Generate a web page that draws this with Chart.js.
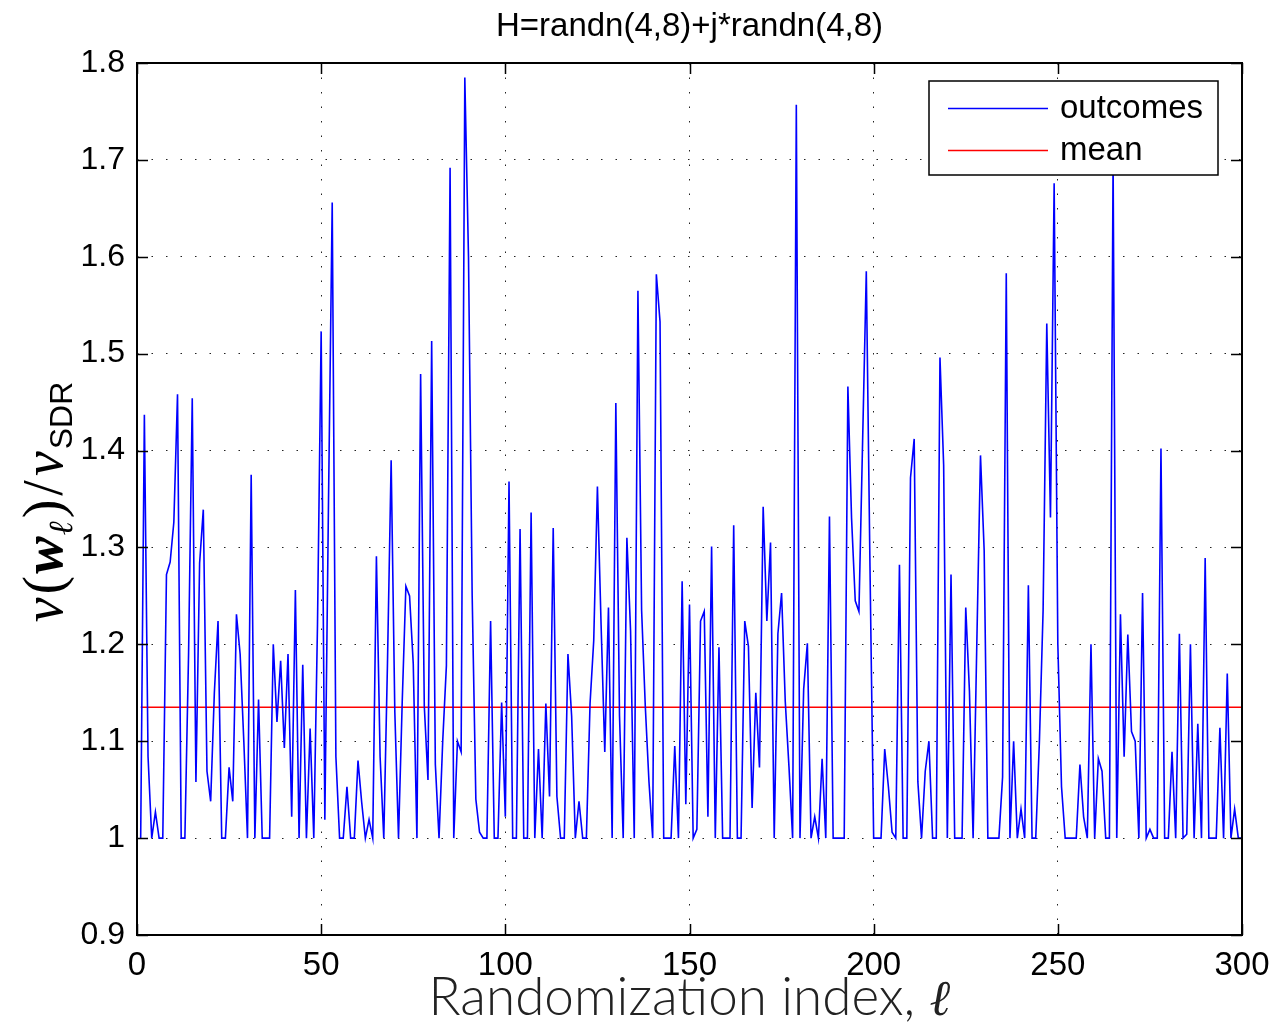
<!DOCTYPE html>
<html>
<head>
<meta charset="utf-8">
<title>outcomes vs SDR</title>
<script src="https://cdn.jsdelivr.net/npm/chart.js@4.4.1/dist/chart.umd.min.js"></script>
<style>
    html, body { margin: 0; padding: 0; background: #ffffff; }
    #chart-container { width: 1274px; height: 1023px; }
</style>
</head>
<body>
<div id="chart-container"><canvas width="1274" height="1023"></canvas></div>
<script>
const chartTitle = 'H=randn(4,8)+j*randn(4,8)';
const xAxisTitle = 'Randomization index, ';
const legendLabels = ['outcomes', 'mean'];

const xTickValues = [0, 50, 100, 150, 200, 250, 300];
const yTickValues = [0.9, 1.0, 1.1, 1.2, 1.3, 1.4, 1.5, 1.6, 1.7, 1.8];

// one value per randomization (index 1..300)
const outcomes = [
    1.0, 1.437, 1.084, 1.0, 1.027, 1.0, 1.0, 1.272, 1.285, 1.326,
    1.458, 1.0, 1.0, 1.19, 1.454, 1.058, 1.284, 1.339, 1.069, 1.038,
    1.15, 1.224, 1.0, 1.0, 1.073, 1.038, 1.231, 1.19, 1.1, 1.0,
    1.375, 1.0, 1.143, 1.0, 1.0, 1.0, 1.2, 1.12, 1.183, 1.093,
    1.19, 1.022, 1.256, 1.0, 1.179, 1.0, 1.113, 1.0, 1.22, 1.523,
    1.019, 1.35, 1.656, 1.084, 1.0, 1.0, 1.053, 1.0, 1.0, 1.08,
    1.037, 1.0, 1.019, 1.0, 1.291, 1.084, 1.0, 1.18, 1.39, 1.13,
    1.0, 1.14, 1.26, 1.25, 1.18, 1.0, 1.479, 1.136, 1.06, 1.513,
    1.076, 1.0, 1.1, 1.178, 1.692, 1.0, 1.1, 1.089, 1.785, 1.6,
    1.25, 1.04, 1.006, 1.0, 1.0, 1.224, 1.0, 1.0, 1.14, 1.022,
    1.368, 1.0, 1.0, 1.319, 1.0, 1.0, 1.336, 1.0, 1.092, 1.0,
    1.139, 1.043, 1.32, 1.043, 1.0, 1.0, 1.19, 1.126, 1.0, 1.038,
    1.0, 1.0, 1.139, 1.204, 1.363, 1.22, 1.089, 1.238, 1.0, 1.449,
    1.126, 1.0, 1.31, 1.214, 1.0, 1.565, 1.235, 1.136, 1.058, 1.0,
    1.582, 1.533, 1.0, 1.0, 1.0, 1.095, 1.0, 1.265, 1.035, 1.241,
    1.0, 1.009, 1.224, 1.234, 1.022, 1.301, 1.0, 1.197, 1.0, 1.0,
    1.0, 1.323, 1.0, 1.0, 1.224, 1.198, 1.031, 1.15, 1.073, 1.342,
    1.224, 1.305, 1.0, 1.211, 1.253, 1.141, 1.074, 1.0, 1.757, 1.0,
    1.154, 1.201, 1.0, 1.022, 1.0, 1.082, 1.0, 1.332, 1.0, 1.0,
    1.0, 1.0, 1.466, 1.33, 1.245, 1.234, 1.41, 1.585, 1.28, 1.0,
    1.0, 1.0, 1.092, 1.053, 1.006, 1.0, 1.282, 1.0, 1.0, 1.372,
    1.412, 1.058, 1.0, 1.069, 1.1, 1.0, 1.0, 1.496, 1.385, 1.0,
    1.272, 1.0, 1.0, 1.0, 1.238, 1.152, 1.0, 1.2, 1.395, 1.297,
    1.0, 1.0, 1.0, 1.0, 1.063, 1.583, 1.0, 1.1, 1.0, 1.03,
    1.0, 1.261, 1.0, 1.0, 1.1, 1.235, 1.531, 1.331, 1.676, 1.2,
    1.053, 1.0, 1.0, 1.0, 1.0, 1.076, 1.022, 1.0, 1.2, 1.0,
    1.082, 1.069, 1.0, 1.0, 1.70, 1.0, 1.231, 1.084, 1.21, 1.11,
    1.1, 1.0, 1.253, 1.0, 1.009, 1.0, 1.0, 1.402, 1.0, 1.0,
    1.089, 1.0, 1.211, 1.0, 1.004, 1.2, 1.0, 1.118, 1.0, 1.289,
    1.0, 1.0, 1.0, 1.114, 1.0, 1.17, 1.0, 1.03, 1.0, 1.0,
];
const meanValue = 1.135;

const tickFont = '"Liberation Sans", Arial, sans-serif';
const mathFont = '"Liberation Serif", "DejaVu Serif", serif';

window.onload = function() {
    createChart();
}

function createChart() {
    const canvas = document.querySelector('#chart-container > canvas');

    const outcomePoints = outcomes.map((value, i) => ({ x: i + 1, y: value }));
    const meanPoints = [
        { x: 1, y: meanValue },
        { x: outcomes.length, y: meanValue },
    ];

    new Chart(canvas, {
        type: 'line',
        data: {
            datasets: [
                {
                    label: legendLabels[0],
                    data: outcomePoints,
                    borderColor: '#0000ff',
                    borderWidth: 1.6,
                    pointRadius: 0,
                    tension: 0,
                },
                {
                    label: legendLabels[1],
                    data: meanPoints,
                    borderColor: '#ff0000',
                    borderWidth: 1.6,
                    pointRadius: 0,
                },
            ],
        },
        options: {
            responsive: false,
            animation: false,
            devicePixelRatio: 1,
            layout: {
                padding: { top: 63, right: 32, bottom: 0, left: 0 },
            },
            plugins: {
                legend: { display: false },
                title: { display: false },
                tooltip: { enabled: false },
            },
            scales: {
                x: {
                    type: 'linear',
                    min: 0,
                    max: 300,
                    afterBuildTicks: scale => {
                        scale.ticks = xTickValues.map(v => ({ value: v }));
                    },
                    afterFit: scale => {
                        scale.height = 88;
                        // the outer labels may hang over, like in MATLAB
                        scale.paddingLeft = 0;
                        scale.paddingRight = 0;
                    },
                    ticks: {
                        color: '#000',
                        font: { family: tickFont, size: 33 },
                        padding: 11,
                        maxRotation: 0,
                    },
                    grid: {
                        color: '#222',
                        lineWidth: 1,
                        drawTicks: false,
                    },
                    border: { display: false, dash: [1.5, 13] },
                },
                y: {
                    min: 0.9,
                    max: 1.8,
                    afterBuildTicks: scale => {
                        scale.ticks = yTickValues.map(v => ({ value: v }));
                    },
                    afterFit: scale => {
                        scale.width = 137;
                        scale.paddingTop = 0;
                        scale.paddingBottom = 0;
                    },
                    ticks: {
                        color: '#000',
                        font: { family: tickFont, size: 32 },
                        padding: 12,
                        callback: value => String(Number(value.toFixed(1))),
                    },
                    grid: {
                        color: '#222',
                        lineWidth: 1,
                        drawTicks: false,
                    },
                    border: { display: false, dash: [1.5, 13] },
                },
            },
        },
        plugins: [matlabFramePlugin],
    });
}

const matlabFramePlugin = {
    id: 'matlabFrame',
    afterDraw(chart) {
        const ctx = chart.ctx;
        const area = chart.chartArea;
        const xScale = chart.scales.x;
        const yScale = chart.scales.y;
        const tickLen = 11;

        ctx.save();
        ctx.strokeStyle = '#000';
        ctx.lineWidth = 1.5;
        ctx.setLineDash([]);

        // inward ticks on all four sides
        ctx.beginPath();
        xTickValues.forEach(v => {
            const px = Math.round(xScale.getPixelForValue(v)) + 0.5;
            ctx.moveTo(px, area.bottom);
            ctx.lineTo(px, area.bottom - tickLen);
            ctx.moveTo(px, area.top);
            ctx.lineTo(px, area.top + tickLen);
        });
        yTickValues.forEach(v => {
            const py = Math.round(yScale.getPixelForValue(v)) + 0.5;
            ctx.moveTo(area.left, py);
            ctx.lineTo(area.left + tickLen, py);
            ctx.moveTo(area.right, py);
            ctx.lineTo(area.right - tickLen, py);
        });
        ctx.stroke();

        ctx.lineWidth = 2;
        ctx.strokeRect(area.left, area.top, area.right - area.left, area.bottom - area.top);

        // legend box, top right inside the axes
        const box = { x: area.right - 313, y: area.top + 18, w: 289, h: 94 };
        ctx.fillStyle = '#fff';
        ctx.fillRect(box.x, box.y, box.w, box.h);
        ctx.lineWidth = 1.5;
        ctx.strokeRect(box.x, box.y, box.w, box.h);

        const rowY = [box.y + 27, box.y + 69];
        const colors = ['#0000ff', '#ff0000'];
        ctx.font = `33px ${tickFont}`;
        ctx.textBaseline = 'middle';
        ctx.textAlign = 'left';
        legendLabels.forEach((label, i) => {
            ctx.strokeStyle = colors[i];
            ctx.lineWidth = 1.5;
            ctx.beginPath();
            ctx.moveTo(box.x + 19, rowY[i] + 0.5);
            ctx.lineTo(box.x + 119, rowY[i] + 0.5);
            ctx.stroke();
            ctx.fillStyle = '#000';
            ctx.fillText(label, box.x + 131, rowY[i] + 1);
        });

        // title
        const midX = (area.left + area.right) / 2;
        ctx.font = `33px ${tickFont}`;
        ctx.textAlign = 'center';
        ctx.textBaseline = 'alphabetic';
        ctx.fillText(chartTitle, midX, 36);

        // x axis title, with the script ell
        const labelFont = '300 53px Lato, "Open Sans", sans-serif';
        const ellFont = `italic 50px ${mathFont}`;
        ctx.font = labelFont;
        const textW = ctx.measureText(xAxisTitle).width;
        ctx.font = ellFont;
        const ellW = ctx.measureText('ℓ').width;
        const startX = midX - (textW + ellW) / 2;
        ctx.textAlign = 'left';
        ctx.fillStyle = '#222';
        ctx.font = labelFont;
        ctx.fillText(xAxisTitle, startX, 1015);
        ctx.font = ellFont;
        ctx.fillText('ℓ', startX + textW, 1015);

        drawYLabel(ctx, 62, 502);
        ctx.restore();
    },
};

function drawYLabel(ctx, x, y) {
    // v(w_l)/v_SDR, drawn rotated like the LaTeX label
    const parts = [
        { text: 'v', font: `italic 56px ${mathFont}`, dy: 0, gap: 3 },
        { text: '(', font: `56px ${mathFont}`, dy: 0, gap: 2 },
        { text: 'w', font: `bold italic 56px ${mathFont}`, dy: 0, gap: 1 },
        { text: 'ℓ', font: `italic 34px ${mathFont}`, dy: 10, gap: 3 },
        { text: ')', font: `56px ${mathFont}`, dy: 0, gap: 4 },
        { text: '/', font: `56px ${mathFont}`, dy: 0, gap: 4 },
        { text: 'v', font: `italic 56px ${mathFont}`, dy: 0, gap: 2 },
        { text: 'SDR', font: `32px ${tickFont}`, dy: 10, gap: 0 },
    ];

    ctx.save();
    ctx.translate(x, y);
    ctx.rotate(-Math.PI / 2);
    ctx.fillStyle = '#000';
    ctx.textAlign = 'left';
    ctx.textBaseline = 'alphabetic';

    let total = 0;
    parts.forEach(p => {
        ctx.font = p.font;
        p.w = ctx.measureText(p.text).width + p.gap;
        total += p.w;
    });

    let cx = -total / 2;
    parts.forEach(p => {
        ctx.font = p.font;
        ctx.fillText(p.text, cx, p.dy);
        cx += p.w;
    });
    ctx.restore();
}
</script>
</body>
</html>
